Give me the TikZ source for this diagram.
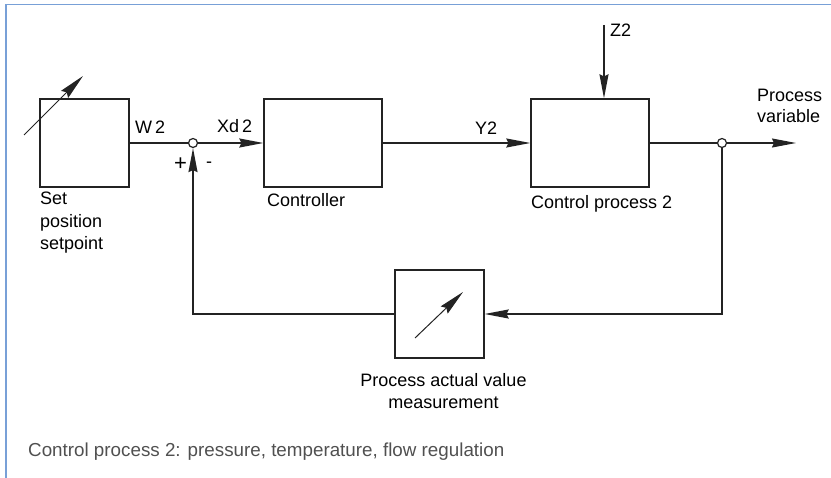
\documentclass[tikz,border=0pt]{standalone}
\usepackage{fontspec}
\setmainfont{Liberation Sans}
\usetikzlibrary{arrows.meta, positioning, calc}
\definecolor{cFrame}{RGB}{120,160,215}
\definecolor{cLine}{RGB}{35,35,35}
\definecolor{cNote}{RGB}{80,80,80}
\tikzset{
	blk/.style   ={rectangle, draw=cLine, line width=1.3pt, minimum width=118pt, minimum height=88pt, inner sep=0pt},
	blksq/.style ={blk, minimum width=89pt},
	sumj/.style  ={circle, draw=cLine, line width=1.2pt, fill=white, minimum size=9pt, inner sep=0pt},
	wire/.style  ={draw=cLine, line width=1.3pt},
	sig/.style   ={wire, -{Stealth[length=24pt, width=9pt, inset=2pt]}},
	adj/.style   ={draw=cLine, line width=1pt, -{Stealth[length=26pt, width=10pt, inset=3pt]}},
	lbl/.style   ={anchor=base west, inner sep=0pt, align=left},
}

\begin{document}
\begin{tikzpicture}[x=1pt, y=-1pt, font=\fontsize{18}{22}\selectfont]
	\useasboundingbox (0,0) rectangle (831,478);
	\draw[cFrame, line width=1.3pt] (831,4.5) -- (6,4.5) -- (6,478);
	% blocks
	\node[blksq] (setp) at (84.5,143) {};
	\node[blk]   (ctrl) at (323,143) {};
	\node[blk]   (proc) at (590,143) {};
	\node[blksq] (meas) at (439.5,314) {};
	\node[sumj]  (sum)  at (193,143) {};
	\node[sumj]  (tap)  at (722,143) {};
	\coordinate (z2in)  at (604,25);
	\coordinate (pvout) at (796,143);
	% adjustment arrows
	\draw[adj] (24,135) -- (83,76);
	\draw[adj] (415,338) -- (463,292);
	% forward path
	\draw[wire] (setp.east) -- (sum);
	\draw[sig] (sum) -- (ctrl.west);
	\draw[sig] (ctrl.east) -- (proc.west);
	\draw[wire] (proc.east) -- (tap);
	\draw[sig] (tap) -- (pvout);
	\draw[sig] (z2in) -- (z2in |- proc.north);
	% feedback path
	\draw[sig] (tap) |- (meas.east);
	\draw[sig] (meas.west) -| (sum);
	% signal labels
	\node[lbl] (w2)    at (135,133.5) {W\,2};
	\node[lbl] (xd2)   at (217,133) {Xd\,2};
	\node[lbl] (y2)    at (475,134.5) {Y2};
	\node[lbl] (z2)    at (610,37) {Z2};
	\node[lbl, font=\fontsize{22}{22}\selectfont] (plus) at (174,171) {+};
	\node[lbl] (minus) at (206,168) {-};
	\node[lbl] (pv)    at (757,123) {Process\\[-1pt]variable};
	% block labels
	\node[lbl] (setpl) at (40,250) {Set\\[0.5pt]position\\[0.5pt]setpoint};
	\node[lbl] (ctrll) at (267,207) {Controller};
	\node[lbl] (procl) at (531,209) {Control process 2};
	\node[anchor=base, inner sep=0pt, align=center] (measl) at (443.5,409) {Process actual value\\measurement};
	\node[lbl, text=cNote, font=\fontsize{18.8}{22}\selectfont] (note) at (28,457) {Control process 2: pressure, temperature, flow regulation};
\end{tikzpicture}
\end{document}
